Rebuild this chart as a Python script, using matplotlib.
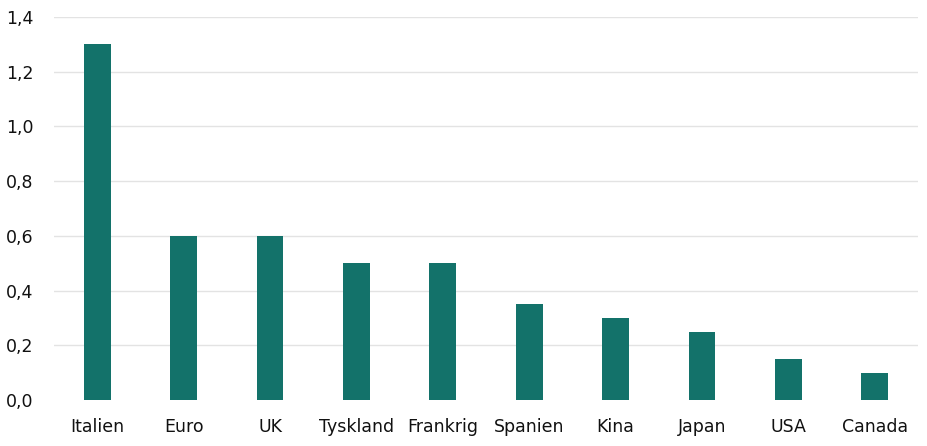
import numpy as np
import matplotlib.pyplot as plt

# Kategorier og værdier
lande = ['Italien', 'Euro', 'UK', 'Tyskland', 'Frankrig', 'Spanien', 'Kina', 'Japan', 'USA', 'Canada']
vaerdier = [1.3, 0.6, 0.6, 0.5, 0.5, 0.35, 0.3, 0.25, 0.15, 0.1]
yticks = [0.0, 0.2, 0.4, 0.6, 0.8, 1.0, 1.2, 1.4]

fig = plt.figure(figsize=(9.28, 4.46), dpi=100)
ax = fig.add_axes([54/928, 46/446, 864/928, 383/446])

x = np.arange(len(lande))
ax.bar(x, vaerdier, width=0.31, color='#13726a', zorder=3)

ax.set_xlim(-0.5, len(lande) - 0.5)
ax.set_ylim(0, 1.4)
ax.set_yticks(yticks)
ax.set_yticklabels([f'{v:.1f}'.replace('.', ',') for v in yticks])
ax.set_xticks(x)
ax.set_xticklabels(lande)

# gitterlinjer (ikke ved 0)
for v in yticks[1:]:
    ax.axhline(v, color='#e3e3e3', linewidth=1, zorder=1)

for s in ax.spines.values():
    s.set_visible(False)
ax.tick_params(axis='both', length=0, labelsize=12.5, colors='#111111')
ax.tick_params(axis='y', pad=15)
ax.tick_params(axis='x', pad=13)

plt.savefig('out.png', dpi=100)
